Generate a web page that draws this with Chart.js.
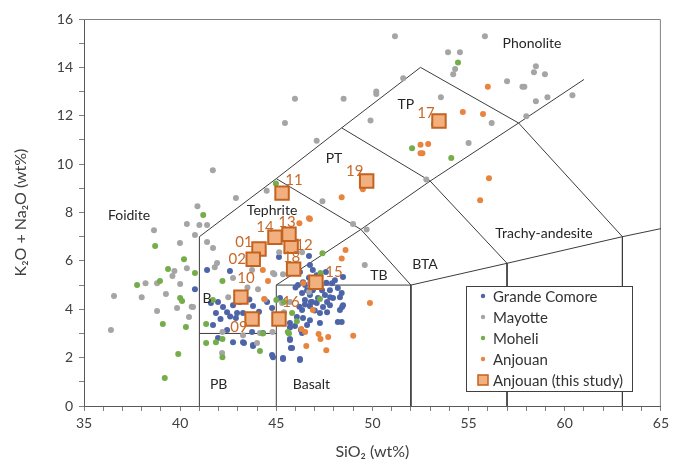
<!DOCTYPE html>
<html>
<head>
<meta charset="utf-8">
<script src="https://cdn.jsdelivr.net/npm/chart.js@4.4.0/dist/chart.umd.min.js"></script>
<style>
  html, body { margin: 0; padding: 0; background: #fff; }
</style>
</head>
<body>
<canvas id="tas" width="673" height="464"></canvas>
<script>
// SiO2 / total alkali pairs
const grandeComore = [
  [45.14,6.16],[41.40,5.62],[40.77,4.83],[42.59,5.58],[41.60,4.26],[41.97,4.30],[42.23,4.09],[41.86,3.84],[42.44,3.88],[42.75,4.17],
  [42.96,3.84],[43.27,3.84],[43.79,4.13],[43.94,3.76],[43.53,3.64],[42.90,3.64],[42.44,3.14],[41.71,3.35],[43.32,2.60],[43.79,2.48],
  [42.75,2.64],[44.52,4.30],[44.78,4.05],[45.19,4.46],[45.04,3.68],[45.35,1.94],[45.71,2.77],[45.76,2.40],[46.23,1.94],[46.28,3.14],
  [45.71,3.43],[46.70,6.20],[46.23,5.54],[46.75,5.83],[46.90,5.62],[47.10,5.41],[47.58,5.54],[47.90,5.08],
  [48.05,5.20],[48.47,5.33],[48.20,4.88],[46.39,5.12],[46.13,5.00],[46.60,4.79],[46.34,4.67],[46.75,4.59],[46.90,4.79],[47.38,4.79],
  [47.53,4.59],[47.79,4.79],[47.95,4.46],[47.17,4.46],[46.49,4.38],[46.86,4.30],[47.64,4.30],[48.31,4.50],[46.20,4.10],[46.49,4.20],
  [46.75,4.12],[47.10,4.26],[47.43,4.09],[47.79,4.17],[47.27,3.84],[47.64,3.88],[48.42,4.09],[48.31,3.97],[46.34,3.97],[46.07,3.68],
  [46.39,3.64],[46.75,3.55],[47.27,3.43],[46.60,3.35],[45.71,3.25],[45.97,3.31],[48.20,3.47],[46.34,3.02],[45.71,2.73],[45.82,2.40],
  [45.35,1.98],[46.23,1.90],[44.83,2.02],[41.97,2.81],[43.27,2.64],[43.79,2.52],[43.74,3.06],[44.31,3.02],[44.78,2.11],[48.40,4.67],
  [48.47,4.17],[48.40,3.47],[46.50,5.00],[47.00,5.00],[47.30,4.95],[46.80,4.30],[47.00,3.95],[46.00,4.90],[47.60,5.10],[47.80,4.50],
  [46.70,5.30],[43.10,4.30],[42.60,3.70],[43.60,4.40],[42.10,3.60],[44.10,3.90],[43.00,4.60]
];
const mayotte = [
  [51.17,15.29],[55.85,15.29],[53.93,14.63],[54.55,14.63],[54.30,13.93],[54.20,13.72],[57.00,13.43],[57.80,13.20],[57.90,13.20],[58.50,14.05],
  [58.40,13.80],[58.97,13.72],[58.50,12.60],[59.10,12.77],[60.40,12.85],[51.60,13.55],[50.20,13.00],[53.56,12.77],[56.20,11.70],[55.00,10.87],
  [52.80,9.36],[49.90,11.80],[58.00,11.98],[45.97,12.70],[48.50,12.70],[50.20,12.90],[45.45,11.70],[47.10,10.97],[41.70,9.75],[44.50,8.90],
  [42.90,8.60],[47.40,8.47],[40.90,8.26],[40.35,7.52],[41.00,7.48],[41.40,7.48],[38.64,7.27],[40.77,7.07],[41.40,6.78],[39.99,6.74],
  [41.71,6.53],[39.70,5.58],[39.60,5.37],[40.35,5.70],[38.20,5.08],[38.80,5.08],[40.00,5.04],[36.56,4.55],[38.00,4.50],[39.26,4.63],
  [38.80,3.93],[39.84,4.05],[40.60,4.10],[36.40,3.14],[41.80,5.74],[41.92,5.91],[42.75,5.29],[44.05,4.83],[43.74,5.62],[42.20,3.06],
  [42.18,2.19],[43.27,2.93],[44.80,3.06],[45.40,3.88],[44.90,5.45],[45.35,5.45],[45.15,6.36],[48.99,7.52],[49.70,7.30],[49.60,5.83],
  [46.70,4.71],[46.75,5.08],[46.34,6.36],[44.83,5.50],[45.30,4.26],[45.71,4.30],[40.67,4.09],[40.46,3.68],[44.00,2.60],[44.15,3.02],
  [43.50,4.90],[42.50,4.50],[44.40,4.40]
];
const moheli = [
  [41.20,7.90],[38.70,6.61],[40.20,6.07],[39.37,5.66],[38.95,5.17],[37.76,5.00],[40.00,4.46],[40.10,4.34],[39.10,3.39],[40.30,3.27],
  [39.90,2.15],[39.20,1.16],[41.35,2.60],[41.35,3.39],[42.20,5.17],[42.20,2.02],[42.20,2.77],[44.15,2.27],[44.30,3.00],[41.70,4.38],
  [45.66,3.00],[46.07,3.50],[47.40,6.32],[47.30,5.50],[45.40,4.30],[45.00,4.38],[45.82,3.84],[45.60,3.06],[47.27,4.42],[40.77,5.50],
  [41.86,2.64],[44.98,9.20],[54.45,14.20],[52.06,10.66],[54.10,10.25],[53.20,11.65]
];
const anjouan = [
  [56.00,13.20],[54.70,12.15],[55.75,12.07],[52.50,10.80],[52.90,10.83],[52.60,10.45],[56.06,9.42],[55.60,8.51],[48.40,8.63],[46.70,7.76],
  [49.50,8.96],[46.20,7.56],[46.75,7.73],[44.30,5.62],[44.57,5.17],[44.37,4.42],[48.60,6.45],[48.40,6.10],[49.87,4.26],[47.20,2.98],
  [47.70,2.85],[46.56,2.48],[47.60,2.31],[49.00,2.90],[46.40,5.08],[47.30,2.77],[46.30,3.18],[46.50,3.06],[46.90,3.97],[45.80,6.50],
  [52.50,10.45]
];

// Anjouan samples of this study
const studyLabels = ['01','02','09','10','11','12','13','14','15','16','17','18','19'];
const studySiO2   = [44.10, 43.80, 43.74, 43.16, 45.30, 45.77, 45.66, 44.93, 47.06, 45.14, 53.46, 45.90, 49.70];
const studyAlkali = [6.49, 6.07, 3.60, 4.50, 8.80, 6.60, 7.10, 6.98, 5.12, 3.60, 11.78, 5.66, 9.30];
// where each number sits relative to its square (px)
const labelDx = [-15, -16, -13, 5, 12, 13, -2, -10, 18, 12, -13, -2, -12];
const labelDy = [-7, 0, 8, -19, -13, -1, -12, -10, -10, -17, -8, -12, -10];

// TAS field boundaries (Le Bas et al. 1986)
const tasLines = [
  [[41,0],[41,7],[45,9.4],[48.4,11.5],[52.5,14],[57.6,11.7],[63,7],[63,0]],
  [[41,3],[45,3]],
  [[45,0],[45,5],[52,5],[52,0]],
  [[45,5],[49.4,7.3],[53,9.3],[57.6,11.7],[61,13.5]],
  [[45,9.4],[49.4,7.3],[52,5]],
  [[48.4,11.5],[53,9.3],[57,5.9],[57,0]],
  [[52,5],[57,5.9],[63,7],[65,7.333]]
];
const fieldNames = ['Foidite','Tephrite','PT','TP','Phonolite','Trachy-andesite','BTA','TB','B','PB','Basalt'];
const fieldX = [37.34, 44.78, 48.0, 51.74, 58.3, 58.92, 52.73, 50.34, 41.4, 42.0, 46.83];
const fieldY = [7.89, 8.1, 10.25, 12.48, 15.0, 7.15, 5.87, 5.41, 4.46, 0.91, 0.91];

const FONT = 'Lato, "Open Sans", sans-serif';
const toXY = arr => arr.map(p => ({x: p[0], y: p[1]}));

const dotSet = (label, data, color, order) => ({
  label, data: toXY(data), order,
  backgroundColor: color, borderColor: color, borderWidth: 0,
  pointRadius: 3, pointHoverRadius: 3
});

const datasets = [
  dotSet('Grande Comore', grandeComore, '#4d64a8', 5),
  dotSet('Mayotte', mayotte, '#a5a5a5', 4),
  dotSet('Moheli', moheli, '#74ad4a', 3),
  dotSet('Anjouan', anjouan, '#e8843e', 2),
  {
    label: 'Anjouan (this study)',
    data: studySiO2.map((s, i) => ({x: s, y: studyAlkali[i]})),
    order: 1,
    pointStyle: 'rect', pointRadius: 9.5, pointHoverRadius: 9.5,
    backgroundColor: '#f2b07f', borderColor: '#c4621f', borderWidth: 2
  }
];
tasLines.forEach(l => datasets.push({
  label: '', data: toXY(l), showLine: true, order: 10,
  borderColor: '#3c3c3c', borderWidth: 1, pointRadius: 0, pointHoverRadius: 0, fill: false
}));

const overlay = {
  id: 'overlay',
  beforeDatasetsDraw(chart) {
    const {ctx, chartArea: a} = chart;
    ctx.save();
    ctx.strokeStyle = '#808080';
    ctx.lineWidth = 1;
    ctx.beginPath();
    ctx.moveTo(a.left, a.top + 0.5);
    ctx.lineTo(a.right - 0.5, a.top + 0.5);
    ctx.lineTo(a.right - 0.5, a.bottom);
    ctx.stroke();
    ctx.restore();
  },
  afterDatasetsDraw(chart) {
    const {ctx, scales: {x, y}} = chart;
    ctx.save();
    ctx.textAlign = 'center';
    ctx.textBaseline = 'middle';

    ctx.fillStyle = '#262626';
    ctx.font = '14px ' + FONT;
    fieldNames.forEach((t, i) => ctx.fillText(t, x.getPixelForValue(fieldX[i]), y.getPixelForValue(fieldY[i])));

    ctx.fillStyle = '#c8692a';
    ctx.font = '15px ' + FONT;
    studyLabels.forEach((t, i) => {
      ctx.fillText(t, x.getPixelForValue(studySiO2[i]) + labelDx[i], y.getPixelForValue(studyAlkali[i]) + labelDy[i]);
    });

    // legend box
    const bx = 466, by = 286, bw = 166, bh = 105;
    ctx.fillStyle = '#fff';
    ctx.fillRect(bx, by, bw, bh);
    ctx.strokeStyle = '#404040';
    ctx.lineWidth = 1;
    ctx.strokeRect(bx + 0.5, by + 0.5, bw, bh);
    ctx.textAlign = 'left';
    ctx.font = '15px ' + FONT;
    datasets.slice(0, 5).forEach((d, i) => {
      const ry = by + 10 + i * 21;
      if (d.pointStyle === 'rect') {
        ctx.fillStyle = d.backgroundColor;
        ctx.strokeStyle = d.borderColor;
        ctx.lineWidth = 1.5;
        ctx.fillRect(478, ry - 5, 10, 10);
        ctx.strokeRect(478, ry - 5, 10, 10);
      } else {
        ctx.fillStyle = d.backgroundColor;
        ctx.beginPath();
        ctx.arc(483, ry, 2.2, 0, Math.PI * 2);
        ctx.fill();
      }
      ctx.fillStyle = '#333';
      ctx.fillText(d.label, 493, ry + 1);
    });
    ctx.restore();
  }
};

new Chart(document.getElementById('tas').getContext('2d'), {
  type: 'scatter',
  data: {datasets},
  options: {
    responsive: false,
    animation: false,
    layout: {padding: {top: 19, right: 12, left: 0, bottom: 0}},
    plugins: {legend: {display: false}, tooltip: {enabled: false}},
    scales: {
      x: {
        type: 'linear', min: 35, max: 65,
        afterFit: s => { s.height = 58; },
        ticks: {
          stepSize: 1, autoSkip: false, maxRotation: 0, padding: 4,
          color: '#404040', font: {size: 14, family: FONT},
          callback: v => (v % 5 === 0 ? v : '')
        },
        grid: {drawOnChartArea: false, drawTicks: true, tickLength: 5, color: '#808080'},
        border: {color: '#595959', width: 1},
        title: {display: true, text: 'SiO₂ (wt%)', color: '#404040', font: {size: 16, family: FONT}, padding: {top: 4, bottom: 3}}
      },
      y: {
        type: 'linear', min: 0, max: 16,
        afterFit: s => { s.width = 84; },
        ticks: {
          stepSize: 1, autoSkip: false, padding: 6,
          color: '#404040', font: {size: 14, family: FONT},
          callback: v => (v % 2 === 0 ? v : '')
        },
        grid: {drawOnChartArea: false, drawTicks: true, tickLength: 5, color: '#808080'},
        border: {color: '#595959', width: 1},
        title: {display: true, text: 'K₂O + Na₂O (wt%)', color: '#404040', font: {size: 16, family: FONT}, padding: {top: 11, bottom: 4}}
      }
    }
  },
  plugins: [overlay]
});
</script>
</body>
</html>
